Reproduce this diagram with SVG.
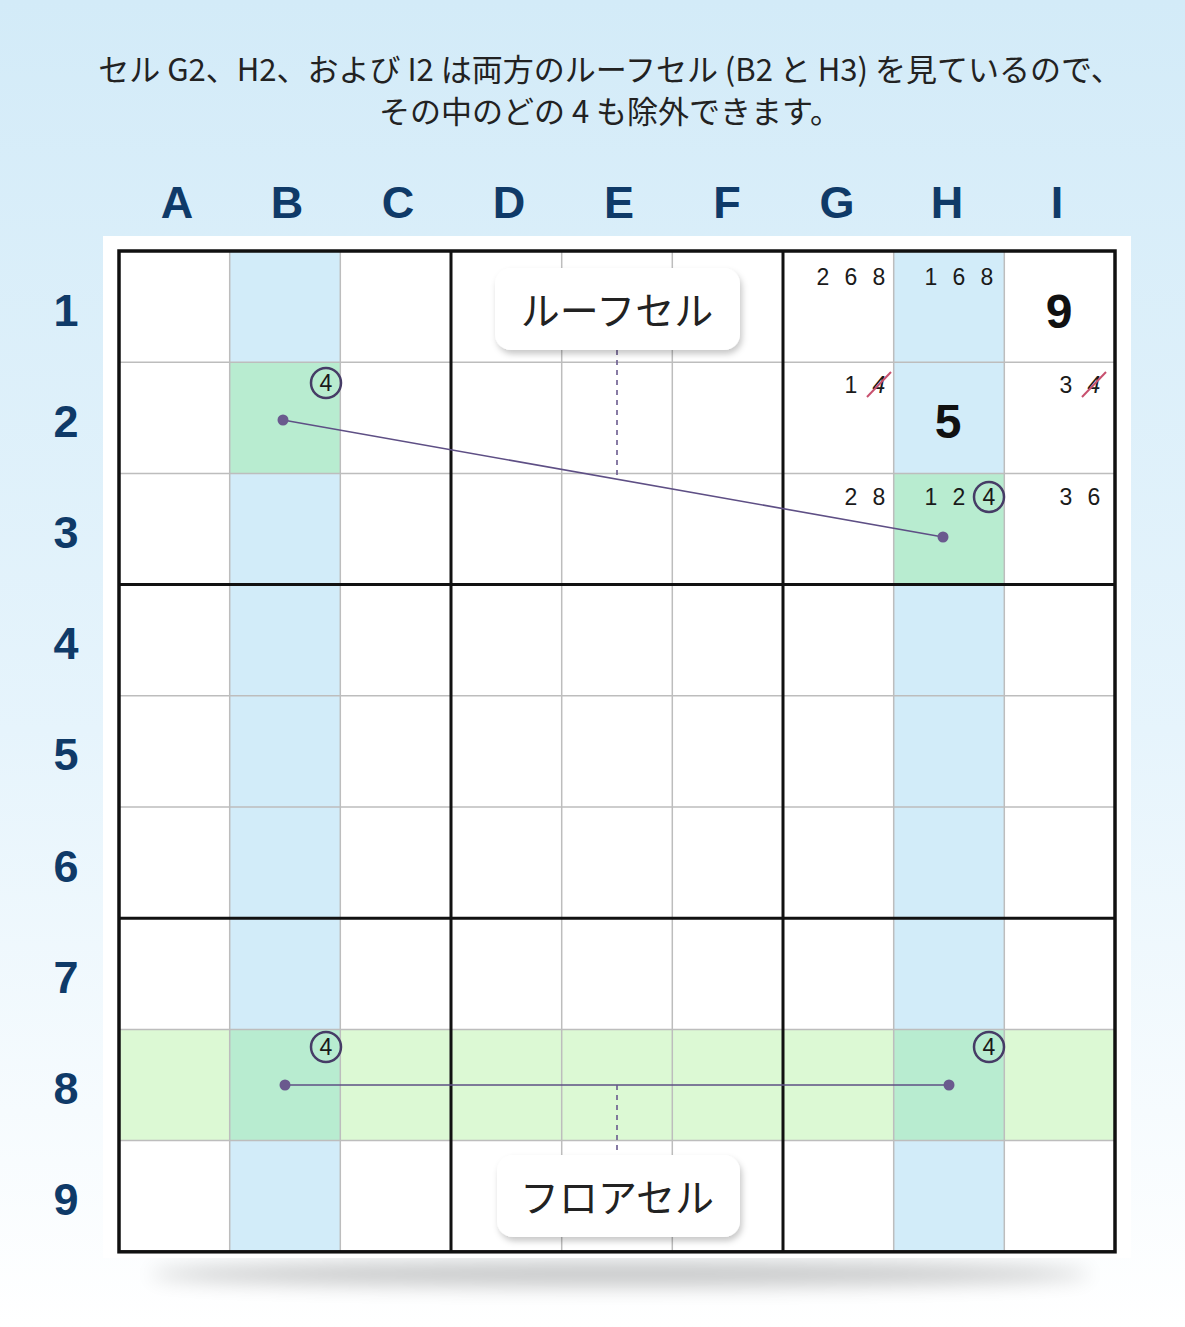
<svg xmlns="http://www.w3.org/2000/svg" width="1185" height="1327" viewBox="0 0 1185 1327">
<defs>
<linearGradient id="bg" x1="0" y1="0" x2="0" y2="1">
<stop offset="0" stop-color="#d3ebf8"/>
<stop offset="0.55" stop-color="#e6f4fc"/>
<stop offset="1" stop-color="#ffffff"/>
</linearGradient>
<filter id="blur" x="-20%" y="-200%" width="140%" height="500%"><feGaussianBlur stdDeviation="10"/></filter>
<filter id="ds" x="-20%" y="-30%" width="140%" height="170%"><feDropShadow dx="2" dy="4" stdDeviation="3" flood-color="#000" flood-opacity="0.22"/></filter>
<style>
.hdr{font-family:"Liberation Sans",Arial,sans-serif;font-weight:bold;font-size:45px;fill:#0f3a68;text-anchor:middle}
.cand{font-family:"Liberation Sans",Arial,sans-serif;font-size:23px;fill:#1a1a1a;text-anchor:middle}
.big{font-family:"Liberation Sans",Arial,sans-serif;font-weight:bold;font-size:48px;fill:#111;text-anchor:middle}
.thin{stroke:#bdbdbd;stroke-width:1.5}
.thick{stroke:#111;stroke-width:3}
.ring{fill:none;stroke:#463c66;stroke-width:2.5}
.lbl{font-family:"Noto Sans CJK JP","Noto Sans",sans-serif;font-size:39px;fill:#222;text-anchor:middle}
.title{font-family:"Noto Sans CJK JP","Noto Sans",sans-serif;font-size:31px;fill:#222;text-anchor:middle}
.conn{stroke:#5e4f85;stroke-width:1.6;fill:none}
.dash{stroke:#6a5a8e;stroke-width:1.6;stroke-dasharray:5 5;fill:none}
.dot{fill:#6a5a8e}
.strike{stroke:#c8506e;stroke-width:2}
</style>
</defs>
<rect x="0" y="0" width="1185" height="1327" fill="url(#bg)"/>
<g id="title">
<text class="title" x="610" y="81">セル G2、H2、および I2 は両方のルーフセル (B2 と H3) を見ているので、</text>
<text class="title" x="610" y="123">その中のどの 4 も除外できます。</text>
</g>
<ellipse cx="620" cy="1274" rx="470" ry="12" fill="#000" opacity="0.22" filter="url(#blur)"/>
<rect x="103" y="236" width="1028" height="1022" fill="#ffffff"/>
<g id="headers">
<text class="hdr" x="177" y="218">A</text>
<text class="hdr" x="287" y="218">B</text>
<text class="hdr" x="398" y="218">C</text>
<text class="hdr" x="509" y="218">D</text>
<text class="hdr" x="619" y="218">E</text>
<text class="hdr" x="727" y="218">F</text>
<text class="hdr" x="837" y="218">G</text>
<text class="hdr" x="947" y="218">H</text>
<text class="hdr" x="1057" y="218">I</text>
<text class="hdr" x="66" y="326">1</text>
<text class="hdr" x="66" y="437">2</text>
<text class="hdr" x="66" y="548">3</text>
<text class="hdr" x="66" y="659">4</text>
<text class="hdr" x="66" y="770">5</text>
<text class="hdr" x="66" y="882">6</text>
<text class="hdr" x="66" y="993">7</text>
<text class="hdr" x="66" y="1104">8</text>
<text class="hdr" x="66" y="1215">9</text>
</g>
<g id="highlights">
<rect x="229.7" y="251" width="110.6" height="1000.8" fill="#d2ecf9"/>
<rect x="893.7" y="251" width="110.6" height="1000.8" fill="#d2ecf9"/>
<rect x="119" y="1029.4" width="996" height="111.2" fill="#dcf9d4"/>
<rect x="229.7" y="362.2" width="110.6" height="111.2" fill="#b8ecd0"/>
<rect x="893.7" y="473.4" width="110.6" height="111.2" fill="#b8ecd0"/>
<rect x="229.7" y="1029.4" width="110.6" height="111.2" fill="#b8ecd0"/>
<rect x="893.7" y="1029.4" width="110.6" height="111.2" fill="#b8ecd0"/>
</g>
<g id="grid">
<g class="thin">
<line x1="229.7" y1="251" x2="229.7" y2="1251.8"/>
<line x1="340.3" y1="251" x2="340.3" y2="1251.8"/>
<line x1="561.7" y1="251" x2="561.7" y2="1251.8"/>
<line x1="672.3" y1="251" x2="672.3" y2="1251.8"/>
<line x1="893.7" y1="251" x2="893.7" y2="1251.8"/>
<line x1="1004.3" y1="251" x2="1004.3" y2="1251.8"/>
<line x1="119" y1="362.2" x2="1115" y2="362.2"/>
<line x1="119" y1="473.4" x2="1115" y2="473.4"/>
<line x1="119" y1="695.8" x2="1115" y2="695.8"/>
<line x1="119" y1="807" x2="1115" y2="807"/>
<line x1="119" y1="1029.4" x2="1115" y2="1029.4"/>
<line x1="119" y1="1140.6" x2="1115" y2="1140.6"/>
</g>
<g class="thick">
<line x1="451" y1="251" x2="451" y2="1251.8"/>
<line x1="783" y1="251" x2="783" y2="1251.8"/>
<line x1="119" y1="584.6" x2="1115" y2="584.6"/>
<line x1="119" y1="918.2" x2="1115" y2="918.2"/>
</g>
<rect x="119" y="251" width="996" height="1000.8" fill="none" stroke="#111" stroke-width="3.5"/>
</g>
<g id="cells">
<g id="G1"><text class="cand" x="823" y="285">2</text><text class="cand" x="851" y="285">6</text><text class="cand" x="879" y="285">8</text></g>
<g id="H1"><text class="cand" x="931" y="285">1</text><text class="cand" x="959" y="285">6</text><text class="cand" x="987" y="285">8</text></g>
<g id="I1"><text class="big" x="1059" y="328">9</text></g>
<g id="G2"><text class="cand" x="851" y="393">1</text><text class="cand" x="879" y="393" font-style="italic">4</text><line class="strike" x1="867" y1="397" x2="891" y2="372"/></g>
<g id="H2"><text class="big" x="948" y="438">5</text></g>
<g id="I2"><text class="cand" x="1066" y="393">3</text><text class="cand" x="1094" y="393" font-style="italic">4</text><line class="strike" x1="1082" y1="397" x2="1106" y2="372"/></g>
<g id="G3"><text class="cand" x="851" y="505">2</text><text class="cand" x="879" y="505">8</text></g>
<g id="H3"><text class="cand" x="931" y="505">1</text><text class="cand" x="959" y="505">2</text><text class="cand" x="989" y="505">4</text><circle class="ring" cx="989" cy="497" r="15"/></g>
<g id="I3"><text class="cand" x="1066" y="505">3</text><text class="cand" x="1094" y="505">6</text></g>
<g id="B2"><text class="cand" x="326" y="391">4</text><circle class="ring" cx="326" cy="383" r="15"/></g>
<g id="B8"><text class="cand" x="326" y="1055">4</text><circle class="ring" cx="326" cy="1047" r="15"/></g>
<g id="H8"><text class="cand" x="989" y="1055">4</text><circle class="ring" cx="989" cy="1047" r="15"/></g>
</g>
<g id="connectors">
<line class="conn" x1="283" y1="420" x2="943" y2="537"/>
<line class="conn" x1="285" y1="1085" x2="949" y2="1085"/>
<line class="dash" x1="617" y1="340" x2="617" y2="479"/>
<line class="dash" x1="617" y1="1085" x2="617" y2="1158"/>
<circle class="dot" cx="283" cy="420" r="5.5"/>
<circle class="dot" cx="943" cy="537" r="5.5"/>
<circle class="dot" cx="285" cy="1085" r="5.5"/>
<circle class="dot" cx="949" cy="1085" r="5.5"/>
</g>
<g id="roof-label">
<rect x="495" y="268" width="245" height="82" rx="16" fill="#ffffff" filter="url(#ds)"/>
<text class="lbl" x="617" y="325">ルーフセル</text>
</g>
<g id="floor-label">
<rect x="497" y="1155" width="243" height="82" rx="16" fill="#ffffff" filter="url(#ds)"/>
<text class="lbl" x="617" y="1212">フロアセル</text>
</g>
</svg>
